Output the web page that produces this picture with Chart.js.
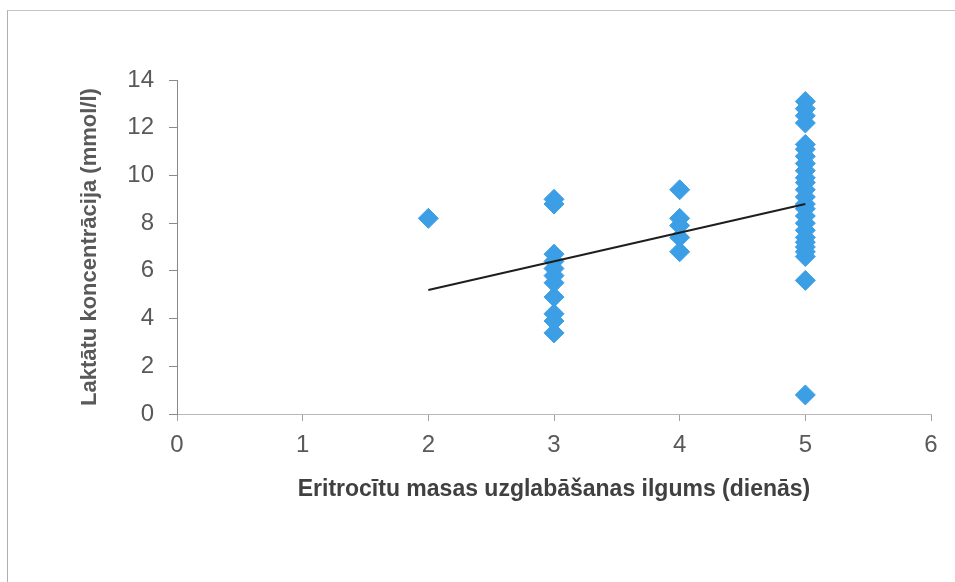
<!DOCTYPE html>
<html>
<head>
<meta charset="utf-8">
<script src="https://cdn.jsdelivr.net/npm/chart.js@4.4.1/dist/chart.umd.min.js"></script>
<style>
  html, body { margin: 0; padding: 0; background: #ffffff; }
  #wrap { position: relative; width: 955px; height: 582px; overflow: hidden; }
  #frame { position: absolute; left: 7px; top: 10px; right: -5px; bottom: -5px;
           border-top: 1px solid #c4c4c4; border-left: 1px solid #b0b0b0; pointer-events: none; }
  canvas { position: absolute; left: 0; top: 0; }
</style>
</head>
<body>
<div id="wrap">
  <canvas id="chart" width="955" height="582"></canvas>
  <div id="frame"></div>
</div>
<script>
// Storage time of red cell concentrate (days) and measured lactate (mmol/l)
const storageDays = [2, 3, 4, 5];
const lactateDay2 = [8.2];
const lactateDay3 = [9.0, 8.8, 6.7, 6.4, 6.1, 5.8, 5.5, 4.9, 4.2, 3.9, 3.4];
const lactateDay4 = [9.4, 8.2, 7.9, 7.4, 6.8];
const lactateDay5 = [13.1, 12.8, 12.5, 12.2, 11.3, 11.1, 10.8, 10.5, 10.2, 9.9, 9.7,
                     9.4, 9.1, 8.8, 8.6, 8.3, 8.0, 7.7, 7.4, 7.2, 7.0, 6.8, 6.6, 5.6, 0.8];

// Linear trend line end points
const trendDays = [2, 5];
const trendLactate = [5.2, 8.8];

const xTicks = [0, 1, 2, 3, 4, 5, 6];
const yTicks = [0, 2, 4, 6, 8, 10, 12, 14];

const xTitle = 'Eritrocītu masas uzglabāšanas ilgums (dienās)';
const yTitle = 'Laktātu koncentrācija (mmol/l)';

const groups = [lactateDay2, lactateDay3, lactateDay4, lactateDay5];
const points = [];
groups.forEach((vals, i) => vals.forEach(v => points.push({ x: storageDays[i], y: v })));
const trend = trendDays.map((d, i) => ({ x: d, y: trendLactate[i] }));

const tickColor = '#595959';
const tickFont = { family: "'Liberation Sans Narrow', 'Arial Narrow', 'Liberation Sans', sans-serif", size: 24 };

new Chart(document.getElementById('chart'), {
  type: 'scatter',
  data: {
    datasets: [
      {
        data: points,
        pointStyle: 'rectRot',
        pointRadius: 10,
        pointBackgroundColor: '#3C9FE6',
        pointBorderColor: '#3C9FE6',
        pointBorderWidth: 1,
        order: 2
      },
      {
        type: 'line',
        data: trend,
        borderColor: '#1e1e1e',
        borderWidth: 2,
        pointRadius: 0,
        fill: false,
        order: 1
      }
    ]
  },
  options: {
    responsive: false,
    animation: false,
    layout: { padding: { top: 80, right: 24, left: 0, bottom: 0 } },
    plugins: { legend: { display: false }, tooltip: { enabled: false } },
    scales: {
      x: {
        type: 'linear',
        min: 0, max: 6,
        afterBuildTicks: s => { s.ticks = xTicks.map(v => ({ value: v })); },
        afterFit: s => { s.height = 168; },
        border: { color: '#b8b8b8', width: 1 },
        grid: { drawOnChartArea: false, drawTicks: true, tickLength: 7, color: '#a0a0a0' },
        ticks: { color: tickColor, font: tickFont, padding: 10, maxRotation: 0 },
        title: {
          display: true, text: xTitle, color: '#404040',
          font: { family: "'Liberation Sans Narrow', 'Arial Narrow', 'Liberation Sans', sans-serif", size: 23, weight: 'bold' },
          padding: { top: 0, bottom: 79 }
        }
      },
      y: {
        type: 'linear',
        min: 0, max: 14,
        afterBuildTicks: s => { s.ticks = yTicks.map(v => ({ value: v })); },
        afterFit: s => { s.width = 177; },
        border: { color: '#8a8a8a', width: 1 },
        grid: { drawOnChartArea: false, drawTicks: true, tickLength: 8, color: '#8a8a8a' },
        ticks: { color: tickColor, font: tickFont, padding: 15 },
        title: {
          display: true, text: yTitle, color: '#595959',
          font: { family: "'Liberation Sans', Arial, sans-serif", size: 22, weight: 'bold' },
          padding: { top: 77, bottom: 0 }
        }
      }
    }
  }
});
</script>
</body>
</html>
